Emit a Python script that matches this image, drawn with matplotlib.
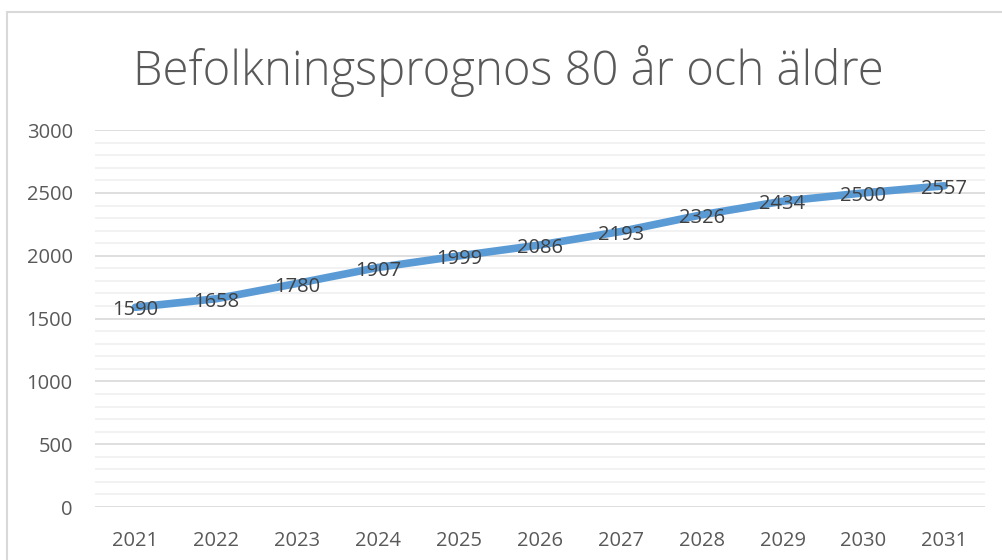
import matplotlib.pyplot as plt
from matplotlib.patches import Rectangle
from matplotlib.ticker import MultipleLocator

plt.rcParams['font.family'] = ['Open Sans', 'DejaVu Sans']

# data
years = ['2021', '2022', '2023', '2024', '2025', '2026', '2027', '2028', '2029', '2030', '2031']
population = [1590, 1658, 1780, 1907, 1999, 2086, 2193, 2326, 2434, 2500, 2557]
title = 'Befolkningsprognos 80 år och äldre'

fig = plt.figure(figsize=(10.02, 5.6), dpi=100)
ax = fig.add_axes([0.0948, 0.0946, 0.888, 0.673])

# chart frame (light gray border, partly cut off like in the original)
fig.patches.append(Rectangle((7 / 1002, -0.05), 1.1, 1 - 12 / 560 + 0.05,
                             transform=fig.transFigure, fill=False,
                             edgecolor='#D9D9D9', linewidth=1.5))

x = list(range(len(years)))
ax.plot(x, population, color='#5B9BD5', linewidth=5.5,
        solid_joinstyle='round', solid_capstyle='round', zorder=3)

for xi, v in zip(x, population):
    ax.text(xi, v - 25, str(v), ha='center', va='center',
            fontsize=14.5, color='#404040', zorder=4)

ax.set_xlim(-0.5, len(years) - 0.5)
ax.set_ylim(0, 3000)
ax.set_xticks(x)
ax.set_xticklabels(years)
ax.yaxis.set_major_locator(MultipleLocator(500))
ax.yaxis.set_minor_locator(MultipleLocator(100))

ax.grid(which='major', axis='y', color='#D9D9D9', linewidth=1.2)
ax.grid(which='minor', axis='y', color='#F0F0F0', linewidth=1.2)
ax.set_axisbelow(True)

for s in ax.spines.values():
    s.set_visible(False)
ax.tick_params(which='both', length=0)
ax.tick_params(axis='y', pad=16, labelsize=14.5, labelcolor='#595959')
ax.tick_params(axis='x', pad=17, labelsize=14.5, labelcolor='#595959')

fig.text(0.507, 0.873, title, ha='center', va='center',
         fontsize=34, fontweight='light', color='#595959')

fig.savefig('out.png', dpi=100)
